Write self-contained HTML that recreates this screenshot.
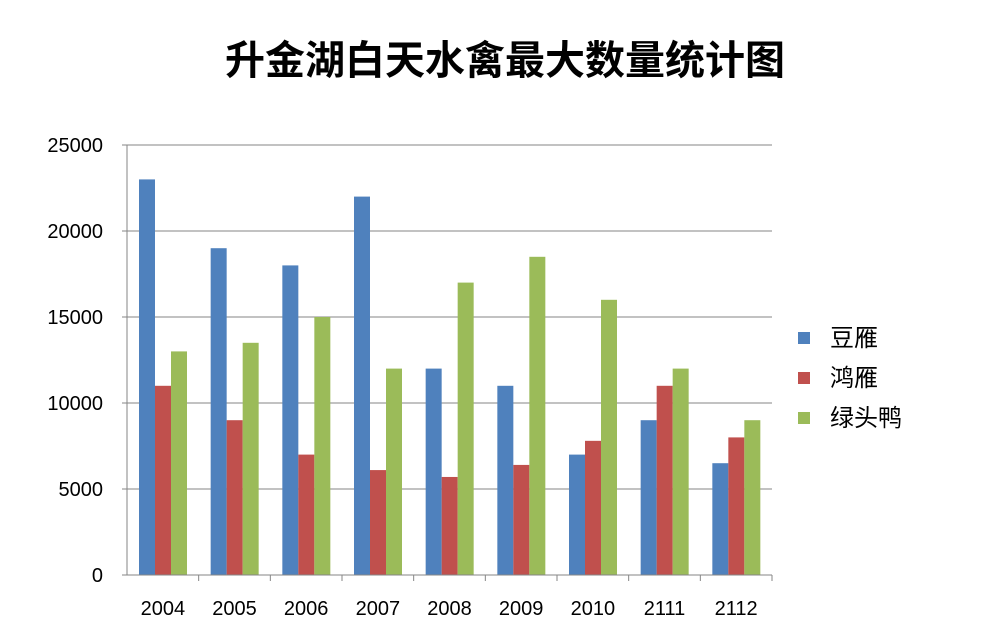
<!DOCTYPE html>
<html><head><meta charset="utf-8">
<style>
body{margin:0;background:#fff;width:992px;height:637px;overflow:hidden;font-family:"Liberation Sans","Noto Sans CJK SC",sans-serif;}
</style></head>
<body>
<svg id="chart" width="992" height="637" xmlns="http://www.w3.org/2000/svg">
<text x="505" y="74" text-anchor="middle" font-size="40" font-weight="bold" font-family="Noto Sans CJK SC, sans-serif" fill="#000">升金湖白天水禽最大数量统计图</text>
<g id="grid"></g><g id="bars"></g><g id="axes"></g>
<g font-family="Noto Sans CJK SC, sans-serif" font-size="24">
<rect x="798" y="332" width="12" height="12" fill="#4f81bd"/><text x="830" y="346">豆雁</text>
<rect x="798" y="372" width="12" height="12" fill="#c0504d"/><text x="830" y="386">鸿雁</text>
<rect x="798" y="412" width="12" height="12" fill="#9bbb59"/><text x="830" y="426">绿头鸭</text>
</g>
</svg>
<script>
const categories=["2004","2005","2006","2007","2008","2009","2010","2111","2112"];
const beanGoose=[23000,19000,18000,22000,12000,11000,7000,9000,6500];
const swanGoose=[11000,9000,7000,6100,5700,6400,7800,11000,8000];
const mallard=[13000,13500,15000,12000,17000,18500,16000,12000,9000];
const yTicks=[0,5000,10000,15000,20000,25000];
const seriesColors=["#4f81bd","#c0504d","#9bbb59"];
const ns="http://www.w3.org/2000/svg";
const x0=127,x1=772,y0=575,y1=145,yMax=25000;
const bw=(x1-x0)/categories.length;
const y=v=>y0-(v/yMax)*(y0-y1);
function mk(t,a,p){const e=document.createElementNS(ns,t);for(const k in a)e.setAttribute(k,a[k]);p.appendChild(e);return e;}
const grid=document.getElementById('grid'),bars=document.getElementById('bars'),axes=document.getElementById('axes');
yTicks.forEach(v=>{
 if(v>0){const l=mk('line',{x1:x0,x2:x1,y1:y(v),y2:y(v),stroke:'#868686','stroke-width':1},grid);
 
 }
 const t=mk('text',{x:103,y:y(v)+7,'text-anchor':'end','font-size':20,fill:'#000'},axes);
 t.textContent=v;
 
 
 mk('line',{x1:x0-5,x2:x0,y1:y(v),y2:y(v),stroke:'#868686'},axes);
});
mk('line',{x1:x0,x2:x0,y1:y1,y2:y0,stroke:'#868686'},axes);
mk('line',{x1:x0,x2:x1,y1:y0,y2:y0,stroke:'#868686'},axes);
const series=[beanGoose,swanGoose,mallard];
categories.forEach((c,i)=>{
 const gx=x0+i*bw;
 series.forEach((s,j)=>{
  const r=mk('rect',{x:gx+12+j*16,y:y(s[i]),width:16,height:y0-y(s[i]),fill:seriesColors[j]},bars);
  
  
 });
 mk('line',{x1:gx+bw,x2:gx+bw,y1:y0,y2:y0+6,stroke:'#868686'},axes);
 const t=mk('text',{x:gx+bw/2,y:615,'text-anchor':'middle','font-size':20,fill:'#000'},axes);
 t.textContent=c;
 
 
});
</script>
</body></html>
